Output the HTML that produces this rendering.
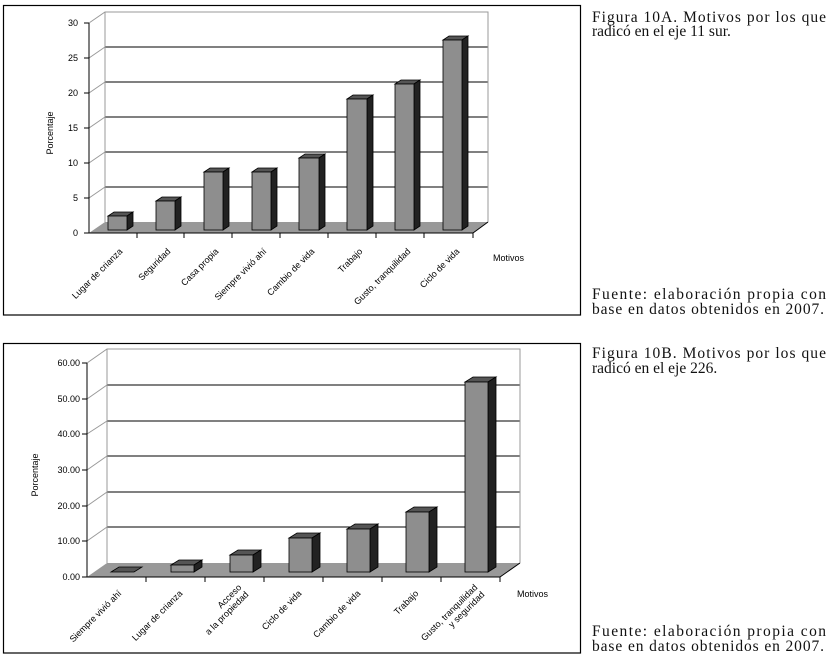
<!DOCTYPE html>
<html><head><meta charset="utf-8"><style>
body{margin:0;background:#fff;}
svg{display:block;}
.t{font-family:"Liberation Sans",sans-serif;font-size:9px;fill:#000;}
.s{font-family:"Liberation Serif",serif;font-size:15.5px;fill:#111;}
</style></head><body>
<svg width="830" height="660" viewBox="0 0 830 660" xmlns="http://www.w3.org/2000/svg">
<rect x="0" y="0" width="830" height="660" fill="#fff"/>
<!-- Chart A -->
<rect x="3.5" y="5.5" width="577" height="309.5" fill="none" stroke="#000" stroke-width="1.2"/>
<g stroke="#000" stroke-width="1">
<line x1="105" y1="47" x2="488" y2="47"/>
<line x1="105" y1="82" x2="488" y2="82"/>
<line x1="105" y1="117" x2="488" y2="117"/>
<line x1="105" y1="152" x2="488" y2="152"/>
<line x1="105" y1="187" x2="488" y2="187"/>
</g>
<g stroke="#999" stroke-width="1" fill="none">
<polyline points="89,23 105,12 488,12 488,222"/>
<line x1="105" y1="12" x2="105" y2="222"/>
<line x1="89" y1="58" x2="105" y2="47"/><line x1="89" y1="93" x2="105" y2="82"/>
<line x1="89" y1="128" x2="105" y2="117"/><line x1="89" y1="163" x2="105" y2="152"/>
<line x1="89" y1="198" x2="105" y2="187"/>
</g>
<polygon points="89,233 105,222 488,222 473,233" fill="#999"/>
<g stroke="#000" stroke-width="1">
<line x1="89" y1="23" x2="89" y2="233"/><line x1="89" y1="233" x2="473" y2="233"/>
<line x1="473" y1="233" x2="488" y2="222"/>
<line x1="84" y1="23" x2="89" y2="23"/><line x1="84" y1="58" x2="89" y2="58"/><line x1="84" y1="93" x2="89" y2="93"/><line x1="84" y1="128" x2="89" y2="128"/><line x1="84" y1="163" x2="89" y2="163"/><line x1="84" y1="198" x2="89" y2="198"/><line x1="84" y1="233" x2="89" y2="233"/>
<line x1="137" y1="233" x2="137" y2="238"/><line x1="184" y1="233" x2="184" y2="238"/><line x1="232" y1="233" x2="232" y2="238"/><line x1="280" y1="233" x2="280" y2="238"/><line x1="328" y1="233" x2="328" y2="238"/><line x1="376" y1="233" x2="376" y2="238"/><line x1="424" y1="233" x2="424" y2="238"/><line x1="473" y1="233" x2="473" y2="238"/>
</g>
<g class="t" text-anchor="end">
<text x="78" y="26">30</text><text x="78" y="61">25</text><text x="78" y="96">20</text><text x="78" y="131">15</text><text x="78" y="166">10</text><text x="78" y="201">5</text><text x="78" y="236">0</text>
</g>
<text class="t" transform="translate(53,133) rotate(-90)" text-anchor="middle">Porcentaje</text>
<text class="t" x="493" y="261">Motivos</text>
<g stroke="#000" stroke-width="0.8">
<polygon points="108,216 127,216 133,212 114,212" fill="#555"/><polygon points="127,216 133,212 133,226 127,230" fill="#222"/><rect x="108" y="216" width="19" height="14" fill="#8e8e8e"/>
<polygon points="156,201 175,201 181,197 162,197" fill="#555"/><polygon points="175,201 181,197 181,226 175,230" fill="#222"/><rect x="156" y="201" width="19" height="29" fill="#8e8e8e"/>
<polygon points="204,172 223,172 229,168 210,168" fill="#555"/><polygon points="223,172 229,168 229,226 223,230" fill="#222"/><rect x="204" y="172" width="19" height="58" fill="#8e8e8e"/>
<polygon points="252,172 271,172 277,168 258,168" fill="#555"/><polygon points="271,172 277,168 277,226 271,230" fill="#222"/><rect x="252" y="172" width="19" height="58" fill="#8e8e8e"/>
<polygon points="299,158 319,158 325,154 305,154" fill="#555"/><polygon points="319,158 325,154 325,226 319,230" fill="#222"/><rect x="299" y="158" width="20" height="72" fill="#8e8e8e"/>
<polygon points="347,99 367,99 373,95 353,95" fill="#555"/><polygon points="367,99 373,95 373,226 367,230" fill="#222"/><rect x="347" y="99" width="20" height="131" fill="#8e8e8e"/>
<polygon points="395,84 414,84 420,80 401,80" fill="#555"/><polygon points="414,84 420,80 420,226 414,230" fill="#222"/><rect x="395" y="84" width="19" height="146" fill="#8e8e8e"/>
<polygon points="443,40 462,40 468,36 449,36" fill="#555"/><polygon points="462,40 468,36 468,226 462,230" fill="#222"/><rect x="443" y="40" width="19" height="190" fill="#8e8e8e"/>
</g>
<g class="t" text-anchor="end">
<text transform="translate(123,252) rotate(-45)">Lugar de crianza</text>
<text transform="translate(171,252) rotate(-45)">Seguridad</text>
<text transform="translate(219,252) rotate(-45)">Casa propia</text>
<text transform="translate(267,252) rotate(-45)">Siempre vivió ahí</text>
<text transform="translate(315,252) rotate(-45)">Cambio de vida</text>
<text transform="translate(363,252) rotate(-45)">Trabajo</text>
<text transform="translate(411,252) rotate(-45)">Gusto, tranquilidad</text>
<text transform="translate(460,252) rotate(-45)">Ciclo de vida</text>
</g>

<!-- Chart B -->
<rect x="3.5" y="343.5" width="577" height="309.5" fill="none" stroke="#000" stroke-width="1.2"/>
<g stroke="#000" stroke-width="1">
<line x1="107" y1="385" x2="520" y2="385"/><line x1="107" y1="421" x2="520" y2="421"/>
<line x1="107" y1="456" x2="520" y2="456"/><line x1="107" y1="492" x2="520" y2="492"/>
<line x1="107" y1="527" x2="520" y2="527"/>
</g>
<g stroke="#999" stroke-width="1" fill="none">
<polyline points="87,363 107,349 520,349 520,563"/>
<line x1="107" y1="349" x2="107" y2="563"/>
<line x1="87" y1="399" x2="107" y2="385"/><line x1="87" y1="434" x2="107" y2="421"/>
<line x1="87" y1="470" x2="107" y2="456"/><line x1="87" y1="506" x2="107" y2="492"/>
<line x1="87" y1="541" x2="107" y2="527"/>
</g>
<polygon points="87,577 107,563 520,563 500,577" fill="#999"/>
<g stroke="#000" stroke-width="1">
<line x1="87" y1="363" x2="87" y2="577"/><line x1="87" y1="577" x2="500" y2="577"/>
<line x1="500" y1="577" x2="520" y2="563"/>
<line x1="82" y1="363" x2="87" y2="363"/><line x1="82" y1="399" x2="87" y2="399"/><line x1="82" y1="434" x2="87" y2="434"/><line x1="82" y1="470" x2="87" y2="470"/><line x1="82" y1="506" x2="87" y2="506"/><line x1="82" y1="541" x2="87" y2="541"/><line x1="82" y1="577" x2="87" y2="577"/>
<line x1="146" y1="577" x2="146" y2="582"/><line x1="205" y1="577" x2="205" y2="582"/><line x1="264" y1="577" x2="264" y2="582"/><line x1="323" y1="577" x2="323" y2="582"/><line x1="382" y1="577" x2="382" y2="582"/><line x1="441" y1="577" x2="441" y2="582"/><line x1="500" y1="577" x2="500" y2="582"/>
</g>
<g class="t" text-anchor="end">
<text x="80" y="366">60.00</text><text x="80" y="402">50.00</text><text x="80" y="437">40.00</text><text x="80" y="473">30.00</text><text x="80" y="509">20.00</text><text x="80" y="544">10.00</text><text x="80" y="580">0.00</text>
</g>
<text class="t" transform="translate(38,475) rotate(-90)" text-anchor="middle">Porcentaje</text>
<text class="t" x="517" y="597">Motivos</text>
<g stroke="#000" stroke-width="0.8">
<polygon points="111,572 134,572 142,567 119,567" fill="#555"/>
<polygon points="171,565 194,565 202,560 179,560" fill="#555"/><polygon points="194,565 202,560 202,567 194,572" fill="#222"/><rect x="171" y="565" width="23" height="7" fill="#8e8e8e"/>
<polygon points="230,555 253,555 261,550 238,550" fill="#555"/><polygon points="253,555 261,550 261,567 253,572" fill="#222"/><rect x="230" y="555" width="23" height="17" fill="#8e8e8e"/>
<polygon points="289,538 312,538 320,533 297,533" fill="#555"/><polygon points="312,538 320,533 320,567 312,572" fill="#222"/><rect x="289" y="538" width="23" height="34" fill="#8e8e8e"/>
<polygon points="347,529 370,529 378,524 355,524" fill="#555"/><polygon points="370,529 378,524 378,567 370,572" fill="#222"/><rect x="347" y="529" width="23" height="43" fill="#8e8e8e"/>
<polygon points="406,512 429,512 437,507 414,507" fill="#555"/><polygon points="429,512 437,507 437,567 429,572" fill="#222"/><rect x="406" y="512" width="23" height="60" fill="#8e8e8e"/>
<polygon points="465,382 488,382 496,377 473,377" fill="#555"/><polygon points="488,382 496,377 496,567 488,572" fill="#222"/><rect x="465" y="382" width="23" height="190" fill="#8e8e8e"/>
</g>
<g class="t" text-anchor="end">
<text transform="translate(122,594) rotate(-45)">Siempre vivió ahí</text>
<text transform="translate(183,594) rotate(-45)">Lugar de crianza</text>
<text transform="translate(242,588) rotate(-45)"><tspan x="0" y="0">Acceso</tspan><tspan x="0" y="10">a la propiedad</tspan></text>
<text transform="translate(302,594) rotate(-45)">Ciclo de vida</text>
<text transform="translate(361,594) rotate(-45)">Cambio de vida</text>
<text transform="translate(419,594) rotate(-45)">Trabajo</text>
<text transform="translate(478,588) rotate(-45)"><tspan x="0" y="0">Gusto, tranquilidad</tspan><tspan x="0" y="10">y seguridad</tspan></text>
</g>

<!-- Captions -->
<text class="s" x="592" y="22" textLength="234" lengthAdjust="spacing">Figura 10A. Motivos por los que</text>
<text class="s" x="592" y="36">radicó en el eje 11 sur.</text>
<text class="s" x="592" y="299" textLength="234" lengthAdjust="spacing">Fuente: elaboración propia con</text>
<text class="s" x="592" y="314" textLength="232" lengthAdjust="spacing">base en datos obtenidos en 2007.</text>
<text class="s" x="592" y="358" textLength="234" lengthAdjust="spacing">Figura 10B. Motivos por los que</text>
<text class="s" x="592" y="373">radicó en el eje 226.</text>
<text class="s" x="592" y="636" textLength="234" lengthAdjust="spacing">Fuente: elaboración propia con</text>
<text class="s" x="592" y="651" textLength="232" lengthAdjust="spacing">base en datos obtenidos en 2007.</text>
</svg>
</body></html>
